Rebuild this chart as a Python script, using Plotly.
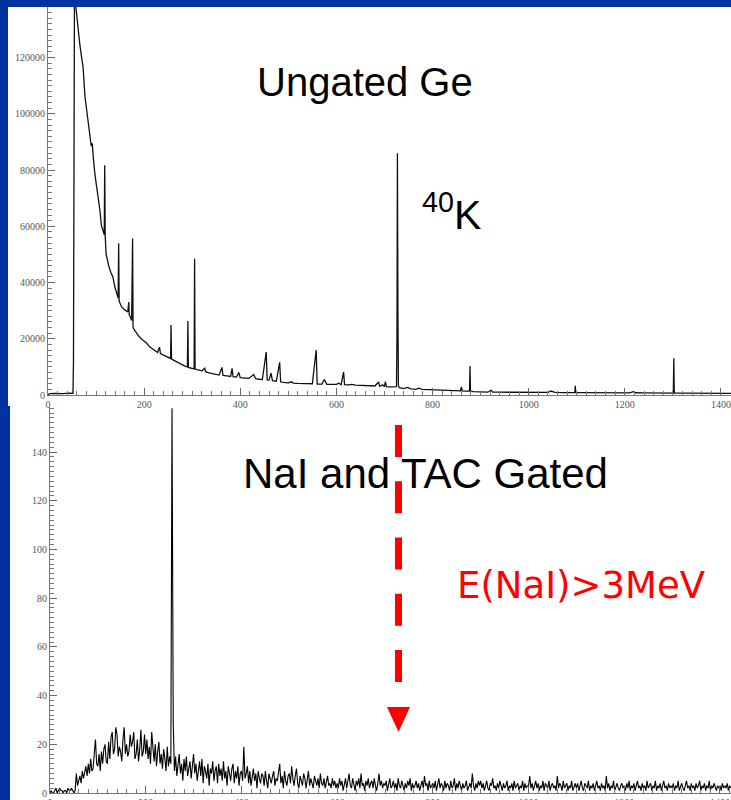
import plotly.graph_objects as go

W, H = 731, 800

def px(x):
    return x / W

def py(y):
    return 1 - y / H

# ---------------- data ----------------
# Ungated Ge spectrum: (channel, counts)
top_points = [
    (0, 0), (3, 500), (15, 600), (30, 500), (45, 700), (52, 600), (53, 11700), (54, 70000),
    (55, 140000), (58, 138000), (62, 131000), (66, 125000), (70, 120000), (73, 116600),
    (77, 106000), (81, 101200), (85, 95000), (88, 91500), (90, 88500), (92, 89500),
    (93, 85500), (95, 83000), (98, 78000), (101, 74000), (104, 70500), (106, 69300),
    (108, 65700), (111, 60400), (115, 58500), (117, 57000), (118, 81700), (119, 56500),
    (121, 50000), (123, 48000), (127, 45500), (131, 43500), (135, 42000), (139, 38500),
    (143, 36000), (146, 34500), (147, 54000), (148, 33500), (150, 32500), (153, 31400),
    (158, 30500), (163, 30000), (166, 29500), (168, 33100), (169, 28500), (172, 27500),
    (174, 26500), (176, 55700), (177, 24000), (180, 23100), (185, 21800), (190, 20700),
    (195, 19800), (200, 19200), (205, 18500), (211, 17200), (216, 16500), (222, 15700),
    (228, 15100), (232, 17000), (234, 14700), (240, 14200), (246, 13700), (252, 13200),
    (255, 13000), (256, 24900), (257, 12800), (262, 12300), (268, 11700), (273, 11300),
    (280, 10800), (286, 10200), (290, 10000), (291, 26300), (292, 9800), (297, 9600),
    (302, 9400), (304, 9300), (305, 48500), (306, 9200), (310, 9000), (315, 8900),
    (320, 8600), (326, 9500), (328, 8300), (335, 7900), (342, 7600), (350, 7300),
    (356, 7100), (362, 9800), (364, 7000), (372, 6800), (380, 6600), (383, 9500),
    (385, 6500), (392, 6400), (397, 8000), (400, 6200), (410, 6000), (418, 5900),
    (428, 7300), (432, 5800), (440, 5600), (446, 5500), (454, 15300), (456, 5400),
    (460, 5300), (464, 7800), (467, 5100), (475, 4900), (482, 11600), (484, 4700),
    (490, 4500), (500, 4300), (507, 4700), (510, 4200), (520, 4100), (530, 4100),
    (540, 4000), (550, 4000), (558, 16000), (560, 3900), (570, 3900), (575, 5500),
    (580, 3800), (590, 3800), (600, 3800), (605, 4200), (610, 3700), (615, 8200),
    (617, 3700), (625, 3600), (632, 3800), (640, 3500), (650, 3400), (660, 3300),
    (670, 3200), (680, 3200), (688, 4600), (690, 3100), (696, 3600), (700, 3000),
    (702, 4800), (704, 3000), (710, 2900), (720, 2800), (725, 3000), (726, 20000),
    (727, 86000), (728, 30000), (729, 3500), (731, 2600), (740, 2300), (748, 2700),
    (755, 2200), (765, 2000), (772, 2400), (778, 2000), (790, 1900), (800, 1800),
    (810, 1800), (820, 1700), (830, 1700), (840, 1600), (850, 1600), (858, 1500),
    (860, 2900), (862, 1500), (870, 1400), (877, 1400), (878, 10300), (879, 1400),
    (885, 1200), (895, 1100), (905, 1100), (915, 1000), (922, 1700), (925, 1000),
    (940, 1000), (960, 950), (980, 950), (1000, 900), (1020, 900), (1040, 900),
    (1046, 1400), (1050, 1200), (1055, 900), (1070, 850), (1085, 850), (1096, 850),
    (1097, 3300), (1098, 850), (1110, 850), (1130, 800), (1150, 800), (1170, 800),
    (1190, 800), (1210, 750), (1218, 1200), (1222, 800), (1240, 750), (1260, 750),
    (1280, 700), (1295, 700), (1301, 700), (1302, 13100), (1303, 700), (1320, 700),
    (1340, 650), (1360, 650), (1380, 650), (1400, 600), (1421, 600),
]

# NaI and TAC gated spectrum: counts per 2.5-channel bin starting at channel 0
bottom_bin_width = 2.5
bottom_counts = [
    # 0 - 97.5
    0, 1, 0, 0, 1, 2, 0, 1, 2, 1, 1, 0, 1, 1, 0, 2, 1, 1, 2, 1, 0, 1,
    8, 3, 5, 7, 4, 9, 6, 8, 11, 7, 12, 8, 14, 9, 10, 16, 22, 12,
    # 100 - 197.5
    11, 16, 9, 17, 12, 18, 20, 13, 12, 21, 14, 23, 25, 16, 18, 27, 24, 15, 19, 17,
    13, 22, 27, 16, 20, 15, 17, 24, 19, 21, 25, 14, 16, 22, 13, 18, 26, 15, 17, 24,
    # 200 - 297.5
    16, 22, 14, 19, 12, 25, 18, 13, 20, 11, 17, 21, 12, 16, 10, 18, 14, 9, 19, 11,
    15, 12, 158, 29, 9, 15, 7, 13, 16, 8, 12, 5, 14, 9, 15, 7, 11, 13, 6, 12,
    # 300 - 397.5
    16, 8, 12, 5, 10, 13, 7, 14, 4, 11, 9, 6, 12, 3, 10, 8, 13, 5, 9, 11,
    4, 12, 7, 10, 5, 13, 6, 9, 3, 11, 8, 5, 10, 12, 4, 9, 6, 11, 3, 8,
    # 400 - 497.5
    9, 5, 19, 6, 8, 11, 4, 9, 3, 7, 10, 5, 8, 2, 9, 6, 4, 8, 7, 3,
    9, 5, 2, 8, 6, 4, 7, 9, 3, 6, 5, 8, 12, 4, 7, 2, 9, 5, 3, 7,
    # 500 - 597.5
    8, 4, 11, 6, 3, 7, 10, 4, 2, 7, 5, 3, 8, 6, 2, 5, 9, 3, 6, 4,
    2, 7, 5, 3, 6, 2, 8, 4, 3, 6, 2, 5, 7, 3, 4, 2, 6, 3, 5, 2,
    # 600 - 697.5
    4, 2, 6, 3, 5, 1, 4, 6, 2, 5, 8, 3, 2, 6, 4, 1, 5, 3, 6, 2,
    8, 3, 4, 1, 5, 3, 6, 2, 4, 5, 2, 6, 3, 1, 4, 8, 3, 5, 2, 4,
    # 700 - 797.5
    3, 5, 1, 4, 6, 2, 3, 5, 2, 4, 1, 6, 3, 2, 5, 3, 1, 4, 2, 5,
    3, 6, 1, 4, 2, 3, 5, 2, 4, 1, 3, 5, 2, 7, 3, 4, 1, 5, 2, 3,
    # 800 - 897.5
    4, 2, 5, 1, 3, 6, 2, 4, 3, 1, 5, 2, 4, 3, 1, 5, 2, 3, 6, 1,
    4, 2, 5, 3, 1, 4, 2, 3, 5, 1, 3, 4, 2, 8, 3, 1, 4, 2, 5, 3,
    # 900 - 997.5
    5, 2, 4, 1, 3, 5, 2, 1, 4, 3, 6, 2, 3, 1, 4, 2, 5, 3, 1, 4,
    2, 3, 5, 1, 3, 2, 4, 1, 5, 2, 3, 4, 1, 3, 2, 5, 1, 4, 2, 3,
    # 1000 - 1097.5
    3, 7, 2, 4, 1, 3, 5, 2, 4, 1, 3, 2, 5, 1, 4, 3, 2, 5, 1, 3,
    4, 2, 3, 1, 7, 2, 4, 3, 1, 5, 2, 3, 4, 1, 3, 2, 5, 1, 3, 4,
    # 1100 - 1197.5
    2, 4, 1, 3, 5, 2, 1, 4, 3, 2, 5, 1, 3, 2, 4, 1, 3, 5, 2, 3,
    1, 4, 2, 3, 1, 7, 2, 4, 1, 3, 2, 5, 1, 3, 4, 2, 1, 3, 4, 2,
    # 1200 - 1297.5
    3, 1, 4, 2, 5, 1, 3, 2, 4, 1, 3, 5, 2, 3, 1, 4, 2, 3, 1, 5,
    2, 3, 4, 1, 3, 2, 5, 1, 3, 2, 4, 1, 3, 5, 2, 3, 1, 4, 2, 3,
    # 1300 - 1397.5
    2, 4, 1, 3, 2, 5, 1, 3, 4, 2, 1, 3, 5, 2, 3, 1, 4, 2, 3, 1,
    4, 2, 3, 5, 1, 3, 2, 4, 1, 3, 2, 5, 1, 3, 2, 4, 2, 1, 3, 2,
    # 1400 - 1422.5
    3, 1, 4, 2, 3, 2, 4, 1, 3, 2,
]

top_title = "Ungated Ge"
top_label = "<sup>40</sup>K"
bottom_title = "NaI and TAC Gated"
gate_label = "E(NaI)>3MeV"

# ---------------- figure ----------------
BLUE = "#0033A0"
top_x = [p[0] for p in top_points]
top_y = [p[1] for p in top_points]
bot_x = [i * bottom_bin_width for i in range(len(bottom_counts))]

fig = go.Figure()
fig.add_trace(go.Scatter(x=top_x, y=top_y, mode="lines",
                         line=dict(color="#111111", width=1.3),
                         xaxis="x", yaxis="y", hoverinfo="skip"))
fig.add_trace(go.Scatter(x=bot_x, y=bottom_counts, mode="lines",
                         line=dict(color="#000000", width=1.1),
                         xaxis="x2", yaxis="y2", hoverinfo="skip"))

tickfont = dict(family="Liberation Serif", size=10, color="#555555")
common = dict(showline=True, linecolor="#777777", linewidth=1, ticks="inside",
              ticklen=7, tickcolor="#666666", tickwidth=1, showgrid=False,
              zeroline=False, tickfont=tickfont, fixedrange=True, automargin=False)

fig.update_layout(
    width=W, height=H,
    margin=dict(l=0, r=0, t=0, b=0, autoexpand=False),
    paper_bgcolor=BLUE, plot_bgcolor="white",
    showlegend=False,
    xaxis=dict(domain=[px(48), 1], range=[0, 1421], anchor="y", dtick=200, tick0=0,
               minor=dict(dtick=20, ticks="inside", ticklen=4, tickcolor="#777777"),
               **common),
    yaxis=dict(domain=[py(395), py(7)], range=[0, 138000], anchor="x", dtick=20000,
               tickformat="d",
               minor=dict(dtick=2000, ticks="inside", ticklen=4, tickcolor="#777777"),
               **common),
    xaxis2=dict(domain=[px(50), 1], range=[0, 1423], anchor="y2", dtick=200, tick0=0,
                minor=dict(dtick=20, ticks="inside", ticklen=4, tickcolor="#777777"),
                **common),
    yaxis2=dict(domain=[py(793), py(407)], range=[0, 158.5], anchor="x2", dtick=20,
                minor=dict(dtick=2, ticks="inside", ticklen=4, tickcolor="#777777"),
                **common),
)

# white panels
fig.add_shape(type="rect", xref="paper", yref="paper", x0=px(8), x1=1, y0=py(406), y1=py(7),
              fillcolor="white", line=dict(width=0), layer="below")
fig.add_shape(type="rect", xref="paper", yref="paper", x0=px(10), x1=1, y0=0, y1=py(406),
              fillcolor="white", line=dict(width=0), layer="below")

# red dashed arrow
fig.add_shape(type="line", xref="paper", yref="paper", x0=px(398.5), x1=px(398.5),
              y0=py(425), y1=py(682), line=dict(color="red", width=7, dash="32px,24.25px"))
fig.add_shape(type="path", xref="paper", yref="paper",
              path=f"M {px(387)},{py(707)} L {px(410)},{py(707)} L {px(398.5)},{py(732)} Z",
              fillcolor="red", line=dict(width=0))

sans = "Liberation Sans, Arial, sans-serif"
fig.add_annotation(text=top_title, xref="paper", yref="paper", x=px(365), y=py(82),
                   xanchor="center", yanchor="middle", showarrow=False,
                   font=dict(family=sans, size=40, color="black"))
fig.add_annotation(text=top_label, xref="paper", yref="paper", x=px(420), y=py(212),
                   xanchor="left", yanchor="middle", showarrow=False,
                   font=dict(family=sans, size=41, color="black"))
fig.add_annotation(text=bottom_title, xref="paper", yref="paper", x=px(425), y=py(473),
                   xanchor="center", yanchor="middle", showarrow=False,
                   font=dict(family=sans, size=42, color="black"))
fig.add_annotation(text=gate_label, xref="paper", yref="paper", x=px(581), y=py(585),
                   xanchor="center", yanchor="middle", showarrow=False,
                   font=dict(family="DejaVu Sans", size=37, color="red"))

fig.write_html("out.html")
